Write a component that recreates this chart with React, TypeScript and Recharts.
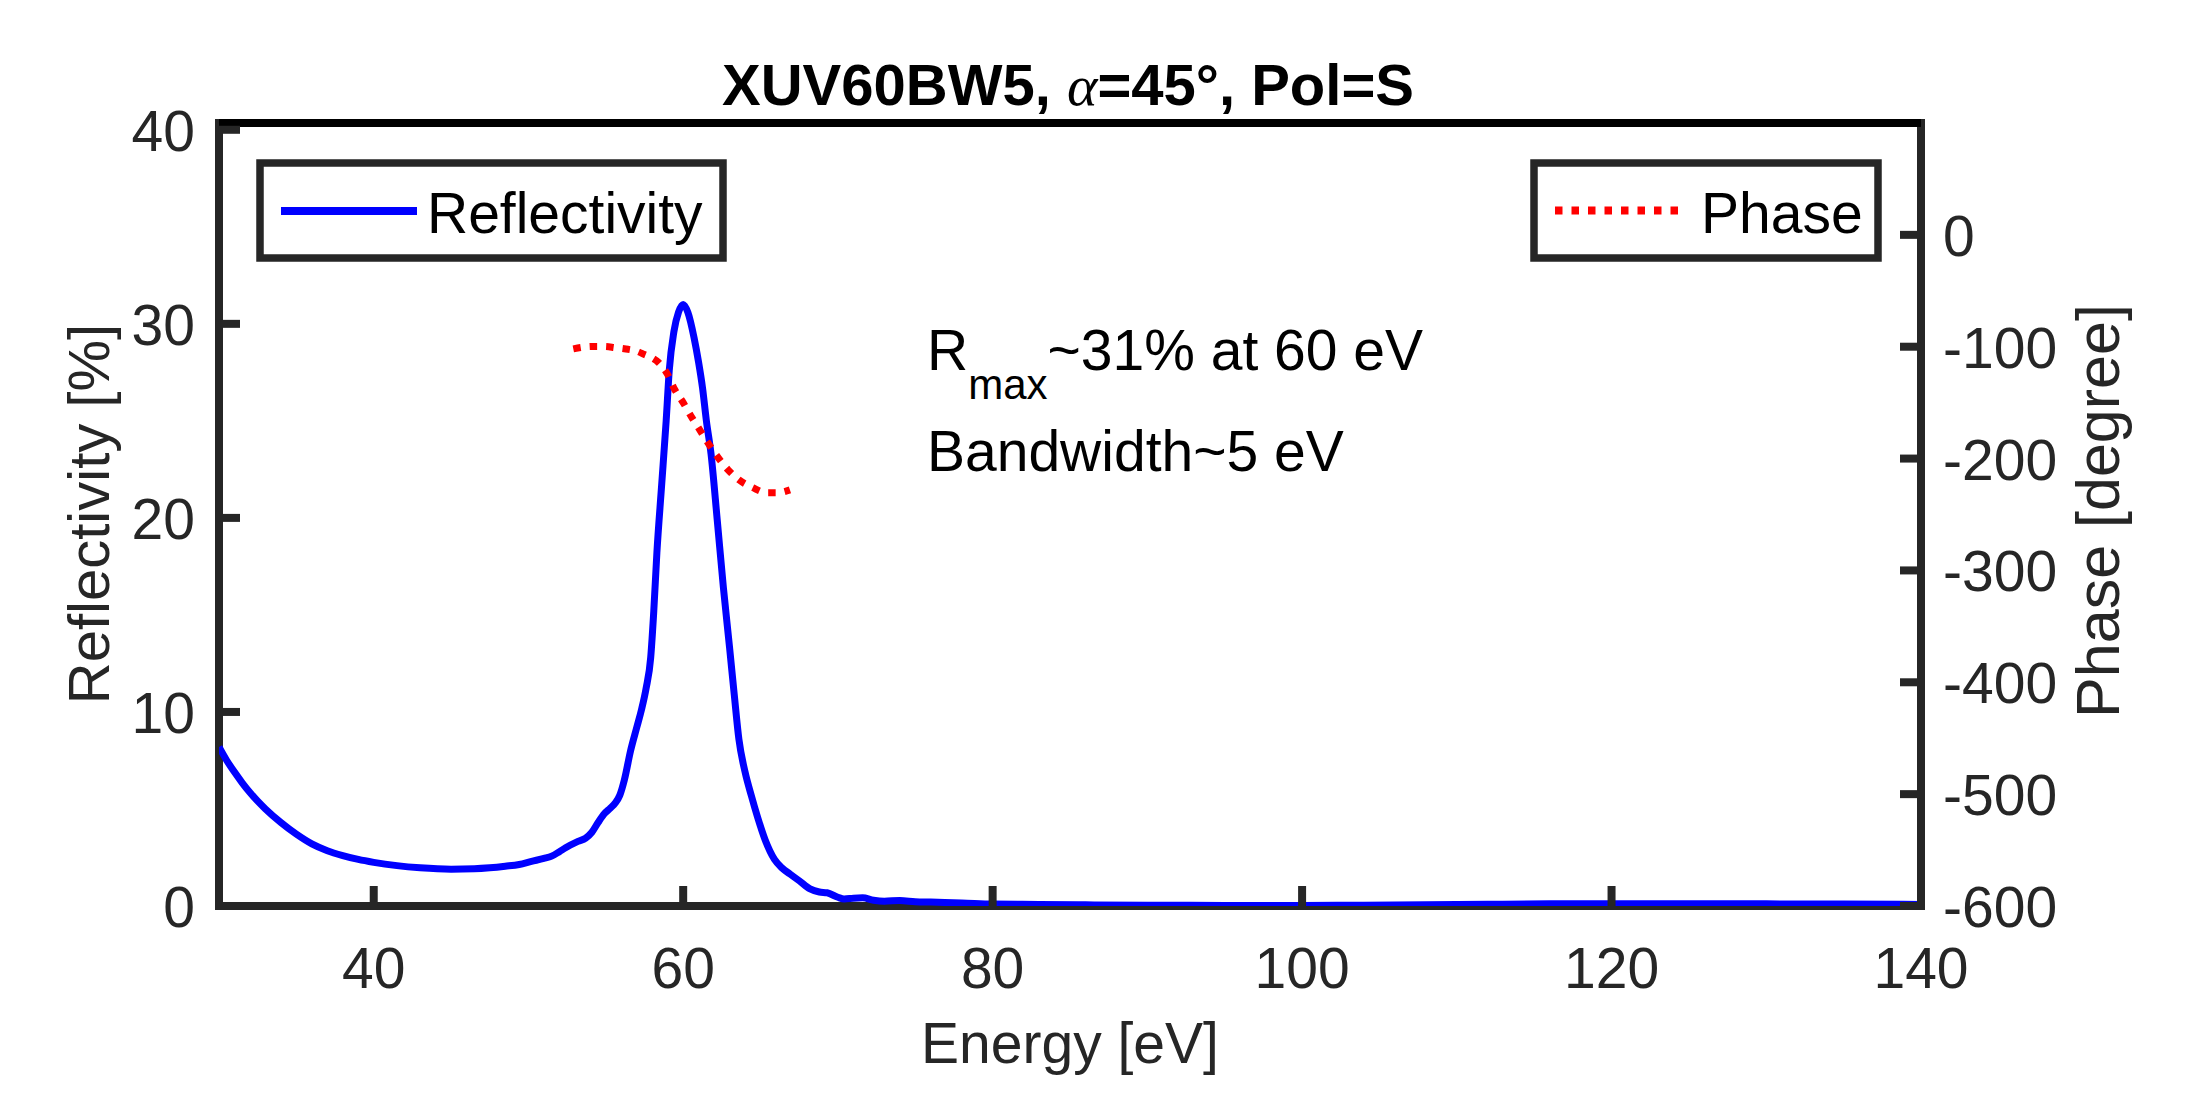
import React from 'react';
import { LineChart, Line, XAxis, YAxis, ReferenceArea, ReferenceLine, Customized } from 'recharts';

// ---------- data ----------
const reflEnergy = [30, 30.5, 31, 31.5, 32, 32.5, 33, 34, 35, 36, 37, 38, 39, 40, 41.5, 43, 45, 46.5, 47.5, 48.5, 49.4, 50.2, 51, 51.5, 52, 52.4, 53.2, 53.7, 54.1, 54.5, 54.9, 55.3, 55.6, 55.9, 56.2, 56.6, 57, 57.3, 57.6, 57.9, 58.1, 58.3, 58.6, 58.9, 59.1, 59.4, 59.7, 60, 60.3, 60.7, 61, 61.25, 61.5, 61.8, 62.2, 62.6, 63, 63.3, 63.6, 64, 64.4, 64.8, 65.3, 65.9, 66.4, 66.9, 67.5, 68.2, 68.8, 69.3, 70, 70.4, 71, 71.6, 72.3, 73, 74, 75, 76, 78, 80, 83, 86, 90, 95, 100, 104, 108, 112, 116, 120, 125, 130, 135, 140];
const reflValues = [8.2, 7.5, 6.9, 6.35, 5.85, 5.4, 5.0, 4.3, 3.7, 3.2, 2.85, 2.6, 2.4, 2.25, 2.08, 1.97, 1.9, 1.92, 1.97, 2.05, 2.14, 2.3, 2.45, 2.57, 2.8, 3.0, 3.33, 3.5, 3.8, 4.3, 4.75, 5.05, 5.3, 5.7, 6.5, 8.0, 9.2, 10.1, 11.2, 12.8, 15.2, 18.2, 21.6, 25.0, 27.6, 29.6, 30.6, 31.0, 30.6, 29.3, 28.0, 26.7, 25.0, 23.3, 19.9, 16.4, 13.3, 10.9, 8.6, 6.9, 5.7, 4.6, 3.4, 2.4, 1.95, 1.65, 1.3, 0.88, 0.72, 0.68, 0.45, 0.36, 0.4, 0.42, 0.3, 0.25, 0.28, 0.22, 0.2, 0.16, 0.1, 0.08, 0.06, 0.04, 0.03, 0.03, 0.04, 0.06, 0.09, 0.11, 0.12, 0.12, 0.11, 0.1, 0.08];

const phaseEnergy = [52.9, 53.5, 54.2, 54.9, 55.6, 56.3, 57.0, 57.5, 58.0, 58.4, 59.0, 59.4, 60.0, 60.5, 61.1, 61.6, 62.2, 62.9, 63.6, 64.5, 65.4, 66.1, 66.9];
const phaseValues = [-102, -100.5, -99.8, -99.8, -100.8, -102, -104, -107, -110, -114, -125, -137, -150, -162, -175, -186, -198, -210, -219, -226, -230.5, -230.5, -228];

const xTicks = [40, 60, 80, 100, 120, 140];
const leftTicks = [0, 10, 20, 30, 40];
const rightTicks = [-600, -500, -400, -300, -200, -100, 0];

const reflData = reflEnergy.map((e, i) => ({ e, r: reflValues[i] }));
const phaseData = phaseEnergy.map((e, i) => ({ e, p: phaseValues[i] }));

// ---------- layout ----------
const W = 2187;
const H = 1094;
const PL = 219;
const PR = 1921;
const PT = 123;
const PB = 906;
const AXW = 60;
const AX = '#262626';
const FONT = '"Liberation Sans", Arial, Helvetica, sans-serif';
const SERIF = '"Liberation Serif", "DejaVu Serif", serif';

const XTick = (props: any) => {
  const { x, payload } = props;
  return (
    <g>
      <line x1={x} x2={x} y1={PB} y2={PB - 20} stroke={AX} strokeWidth={8} />
      <text x={x} y={988} textAnchor="middle" fontSize={57} fontFamily={FONT} fill={AX}>
        {payload.value}
      </text>
    </g>
  );
};

const LeftTick = (props: any) => {
  const { y, payload } = props;
  return (
    <g>
      <line x1={PL} x2={PL + 21} y1={y} y2={y} stroke={AX} strokeWidth={8} />
      <text x={195} y={y + 21} textAnchor="end" fontSize={57} fontFamily={FONT} fill={AX}>
        {payload.value}
      </text>
    </g>
  );
};

const RightTick = (props: any) => {
  const { y, payload } = props;
  return (
    <g>
      <line x1={PR} x2={PR - 21} y1={y} y2={y} stroke={AX} strokeWidth={8} />
      <text x={1943} y={y + 21} textAnchor="start" fontSize={57} fontFamily={FONT} fill={AX}>
        {payload.value}
      </text>
    </g>
  );
};

const Overlay = () => (
  <g fontFamily={FONT}>
    <text x={1068} y={105} textAnchor="middle" fontSize={58} fontWeight="bold" fill="#000">
      {'XUV60BW5, '}
      <tspan fontFamily={SERIF} fontStyle="italic" fontWeight="normal">α</tspan>
      {'=45°, Pol=S'}
    </text>
    <text x={1070} y={1063} textAnchor="middle" fontSize={57} fill={AX}>Energy [eV]</text>
    <text transform="translate(109,514) rotate(-90)" textAnchor="middle" fontSize={58} fill={AX}>Reflectivity [%]</text>
    <text transform="translate(2119,511) rotate(-90)" textAnchor="middle" fontSize={61} fill={AX}>Phase [degree]</text>

    <text x={927} y={370} fontSize={57} fill="#000">
      R<tspan fontSize={42} dy={29}>max</tspan><tspan fontSize={57} dy={-29}>~31% at 60 eV</tspan>
    </text>
    <text x={927} y={471} fontSize={57} fill="#000">Bandwidth~5 eV</text>

    <rect x={260} y={163} width={463} height={95} fill="#fff" stroke={AX} strokeWidth={7.5} />
    <line x1={281} x2={417} y1={211} y2={211} stroke="#0000FF" strokeWidth={8} />
    <text x={427} y={233} fontSize={57} fill="#000">Reflectivity</text>

    <rect x={1534} y={163} width={344} height={95} fill="#fff" stroke={AX} strokeWidth={7.5} />
    <line x1={1555} x2={1680} y1={210.5} y2={210.5} stroke="#FF0000" strokeWidth={8} strokeDasharray="7.5 9" />
    <text x={1701} y={233} fontSize={57} fill="#000">Phase</text>
  </g>
);

export default function App() {
  return (
    <div style={{ position: 'absolute', left: 0, top: 0, width: W, height: H, background: '#fff' }}>
      <LineChart
        width={W}
        height={H}
        margin={{ top: PT, left: PL - AXW, right: W - PR - AXW, bottom: H - PB - AXW }}
      >
        <XAxis
          type="number"
          dataKey="e"
          domain={[30, 140]}
          ticks={xTicks}
          allowDataOverflow
          height={AXW}
          axisLine={false}
          tickLine={false}
          tick={<XTick />}
          interval={0}
        />
        <YAxis
          yAxisId="left"
          type="number"
          domain={[0, 40.35]}
          ticks={leftTicks}
          allowDataOverflow
          width={AXW}
          axisLine={false}
          tickLine={false}
          tick={<LeftTick />}
          interval={0}
        />
        <YAxis
          yAxisId="right"
          orientation="right"
          type="number"
          domain={[-600, 100]}
          ticks={rightTicks}
          allowDataOverflow
          width={AXW}
          axisLine={false}
          tickLine={false}
          tick={<RightTick />}
          interval={0}
        />
        <ReferenceArea
          yAxisId="left"
          x1={30}
          x2={140}
          y1={0}
          y2={40.35}
          fill="none"
          fillOpacity={0}
          stroke={AX}
          strokeWidth={8}
          ifOverflow="visible"
        />
        <ReferenceLine yAxisId="right" y={100} stroke="#000" strokeWidth={8} ifOverflow="visible" />
        <Line
          yAxisId="left"
          data={reflData}
          dataKey="r"
          type="monotone"
          stroke="#0000FF"
          strokeWidth={7}
          dot={false}
          activeDot={false}
          isAnimationActive={false}
        />
        <Line
          yAxisId="right"
          data={phaseData}
          dataKey="p"
          type="monotone"
          stroke="#FF0000"
          strokeWidth={7}
          strokeDasharray="7.5 9"
          dot={false}
          activeDot={false}
          isAnimationActive={false}
        />
        <Customized component={Overlay} />
      </LineChart>
    </div>
  );
}
